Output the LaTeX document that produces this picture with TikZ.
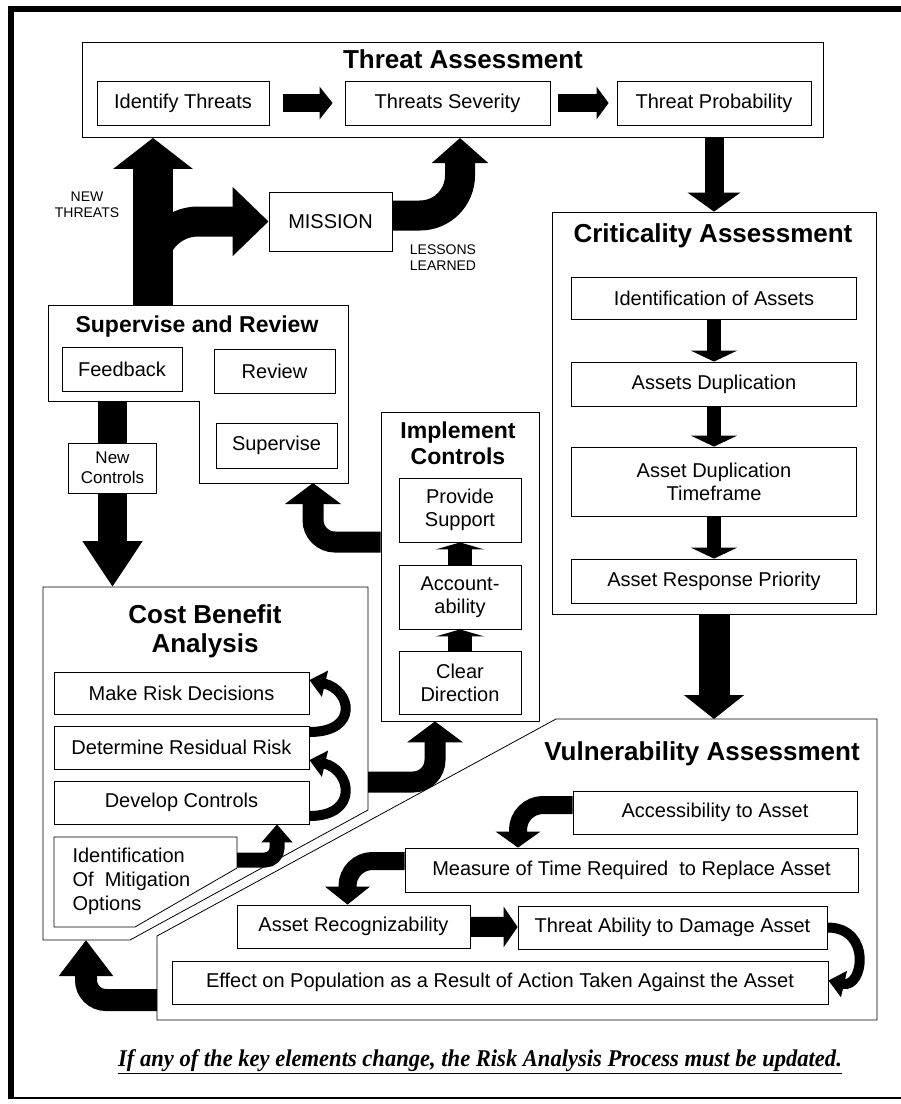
\documentclass[tikz,border=0pt]{standalone}
\usepackage{fontspec}
\setmainfont{Liberation Sans}
\newfontfamily\notefont{Liberation Serif}
\usetikzlibrary{arrows.meta}

\begin{document}
\begin{tikzpicture}[x=1pt, y=-1pt,
        box/.style={draw, line width=0.8pt, inner sep=0pt, align=center, font=\fontsize{20}{23}\selectfont},
        frame/.style={draw, line width=0.8pt},
        heading/.style={font=\bfseries\fontsize{26}{29}\selectfont, align=center},
        tag/.style={font=\fontsize{14}{16}\selectfont},
        fat/.style n args={3}{line width=#1, -{Triangle[width=#2, length=#3]}},
        curly/.style={line width=10pt, -{Triangle[width=26pt, length=16pt]}}
    ]
        \useasboundingbox (0,0) rectangle (901,1104);
        % outer frame
        \draw[line width=6pt] (901,9) -- (11,9) -- (11,1098);
        \draw[line width=2pt] (8,1098) -- (901,1098);

        % Threat assessment
        \node[frame, minimum width=741pt, minimum height=95pt] (ta) at (452.5,90) {};
        \node[heading] (tatitle) at (463,59) {Threat Assessment};
        \node[box, minimum width=172pt, minimum height=44pt] (idthr) at (183,103) {Identify Threats};
        \node[box, minimum width=205pt, minimum height=44pt] (sev) at (447.5,103) {Threats Severity};
        \node[box, minimum width=194pt, minimum height=44pt] (prob) at (714,103) {Threat Probability};
        \draw[fat={18pt}{32pt}{13pt}, shorten <=14pt, shorten >=12pt] (idthr) -- (sev);
        \draw[fat={18pt}{32pt}{12pt}, shorten <=8pt, shorten >=8pt] (sev) -- (prob);

        % Mission and its labels
        \node[box, minimum width=123pt, minimum height=59pt] (mission) at (330.5,221.5) {MISSION};
        \node[tag, align=center] (newthr) at (87,205) {NEW\\THREATS};
        \node[tag, align=left] (lessons) at (443,258) {LESSONS\\LEARNED};
        \coordinate (talearn) at (460,138);
        \draw[fat={30pt}{55pt}{25pt}, rounded corners=40pt] ([yshift=6pt]mission.east) -| (talearn);

        % Supervise and review
        \draw[frame] (48,305) -- (348,305) -- (348,483) -- (199,483) -- (199,401) -- (48,401) -- cycle;
        \coordinate (srtop) at (153,305);
        \coordinate (srbot) at (112.5,401);
        \coordinate (srin) at (313,483);
        \node[heading, font=\bfseries\fontsize{23}{26}\selectfont] (srtitle) at (197,327) {Supervise and Review};
        \node[box, minimum width=120pt, minimum height=44pt] (feed) at (122,369) {Feedback};
        \node[box, minimum width=121pt, minimum height=44pt] (rev) at (274.5,371) {Review};
        \node[box, minimum width=121pt, minimum height=45pt] (sup) at (276.5,445.5) {Supervise};
        \draw[fat={30pt}{67pt}{36pt}, rounded corners=45pt] (srtop) |- (mission.west);
        \draw[fat={40pt}{78pt}{31pt}] (srtop) -- (srtop |- ta.south);

        % Cost benefit analysis
        \draw[frame] (43,587) -- (368,587) -- (368,810) -- (130,940) -- (43,940) -- cycle;
        \coordinate (cbtop) at (112.5,587);
        \coordinate (cbout) at (368,782);
        \coordinate (cbin) at (86,940);
        \draw[fat={29pt}{57pt}{46pt}] (srbot) -- node[pos=0.36, box, fill=white, minimum width=88pt, minimum height=50pt, font=\fontsize{17}{20}\selectfont] (newctl) {New\\Controls} (cbtop);
        \node[heading] (cbtitle) at (205,631) {Cost Benefit\\Analysis};
        \node[box, minimum width=255pt, minimum height=42pt] (makr) at (181.5,693) {Make Risk Decisions};
        \node[box, minimum width=255pt, minimum height=43pt] (detr) at (181.5,747.5) {Determine Residual Risk};
        \node[box, minimum width=255pt, minimum height=43pt] (devc) at (181.5,802.5) {Develop Controls};
        \draw[frame] (54,837) -- (237,837) -- (237,868) -- (135,927) -- (54,927) -- cycle;
        \node[align=left, anchor=west, font=\fontsize{20}{24}\selectfont] (idmit) at (69,881) {Identification\\Of~~Mitigation\\Options};
        \coordinate (idmitout) at (237,860);
        \draw[fat={15pt}{30pt}{18pt}, rounded corners=12pt] (idmitout) -| ([xshift=95.5pt]devc.south);
        \draw[curly] ([yshift=-13.5pt]devc.east) .. controls +(50,0) and +(42,10) .. ([yshift=-12.5pt]detr.east);
        \draw[curly] ([yshift=15.5pt]detr.east) .. controls +(50,0) and +(42,10) .. ([yshift=13pt]makr.east);

        % Implement controls
        \node[frame, minimum width=158pt, minimum height=309pt] (impl) at (460,566.5) {};
        \node[heading, font=\bfseries\fontsize{23}{26}\selectfont] (impltitle) at (458,443) {Implement\\Controls};
        \node[box, minimum width=122pt, minimum height=64pt] (provs) at (460,510) {Provide\\Support};
        \node[box, minimum width=122pt, minimum height=64pt] (acct) at (460,597) {Account-\\ability};
        \node[box, minimum width=122pt, minimum height=63pt] (cleard) at (460,682.5) {Clear\\Direction};
        \foreach \a/\b in {cleard/acct, acct/provs}
            \draw[fat={24pt}{48pt}{7pt}] (\a) -- (\b);
        \draw[fat={21pt}{55pt}{21pt}, rounded corners=22pt] (cbout) -| ([xshift=-25pt]impl.south);
        \draw[fat={21pt}{55pt}{21pt}, rounded corners=22pt] ([yshift=24.5pt]impl.west) -| (srin);

        % Criticality assessment
        \node[frame, minimum width=324pt, minimum height=402pt] (crit) at (714,413) {};
        \node[heading] (crittitle) at (713,236) {Criticality Assessment};
        \node[box, minimum width=285pt, minimum height=42pt] (idas) at (714,298) {Identification of Assets};
        \node[box, minimum width=285pt, minimum height=44pt] (asdup) at (714,384) {Assets Duplication};
        \node[box, minimum width=285pt, minimum height=69pt] (asdtf) at (714,481.5) {Asset Duplication\\Timeframe};
        \node[box, minimum width=285pt, minimum height=44pt] (asrp) at (714,581) {Asset Response Priority};
        \foreach \a/\b in {idas/asdup, asdup/asdtf, asdtf/asrp}
            \draw[fat={14pt}{46pt}{11pt}] (\a) -- (\b);
        \draw[fat={19pt}{52pt}{19pt}] (crit.north |- ta.south) -- (crit.north);

        % Vulnerability assessment
        \draw[frame] (556,719) -- (877,719) -- (877,1020) -- (157,1020) -- (157,936) -- cycle;
        \coordinate (vatop) at (716,719);
        \coordinate (vaout) at (157,1000);
        \draw[fat={31pt}{59pt}{24pt}] (crit.south) -- (crit.south |- vatop);
        \node[heading] (vatitle) at (702,754) {Vulnerability Assessment};
        \node[box, minimum width=284pt, minimum height=43pt] (acc) at (715,812.5) {Accessibility to Asset};
        \node[box, minimum width=453pt, minimum height=44pt] (meas) at (631.5,870) {Measure of Time Required~~to Replace Asset};
        \node[box, minimum width=233pt, minimum height=43pt] (arec) at (353.5,926.5) {Asset Recognizability};
        \node[box, minimum width=309pt, minimum height=43pt] (tad) at (672.5,927.5) {Threat Ability to Damage Asset};
        \node[box, minimum width=656pt, minimum height=43pt] (eff) at (500,982.5) {Effect on Population as a Result of Action Taken Against the Asset};
        \draw[fat={18pt}{44pt}{16pt}, rounded corners=25pt] ([yshift=7.5pt]acc.west) -| ([xshift=-113.5pt]meas.north);
        \draw[fat={18pt}{44pt}{18pt}, rounded corners=25pt] ([yshift=9pt]meas.west) -| ([xshift=-6pt]arec.north);
        \draw[fat={20pt}{40pt}{14pt}] (arec) -- (tad);
        \draw[curly] (tad.east) .. controls +(45,0) and +(35,8) .. ([yshift=2pt]eff.east);
        \draw[fat={22pt}{52pt}{36pt}, rounded corners=20pt] (vaout) -| (cbin);

        % closing remark
        \node[font=\notefont\bfseries\itshape\fontsize{24}{26}\selectfont] (note) at (480,1062) {\scalebox{0.94}[1]{\underline{If any of the key elements change, the Risk Analysis Process must be updated.}}};
    \end{tikzpicture}
\end{document}
